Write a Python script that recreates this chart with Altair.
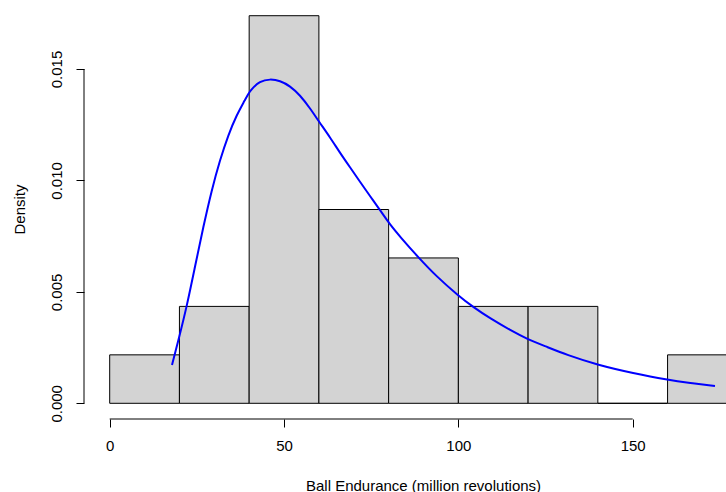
import altair as alt
import pandas as pd

# Histogram bins (million revolutions) and densities
bin_start = [0, 20, 40, 60, 80, 100, 120, 140, 160]
bin_end = [20, 40, 60, 80, 100, 120, 140, 160, 180]
density = [0.002174, 0.004348, 0.017391, 0.008696, 0.006522, 0.004348, 0.004348, 0.0, 0.002174]

# Fitted density curve
curve_x = [17.87, 19.96, 22.08, 24.46, 26.85, 29.25, 31.63, 34.01, 36.42, 38.81, 40.25, 43.1,
           45.99, 48.85, 51.72, 54.58, 57.45, 60.03, 63.18, 66.05, 68.92, 71.79, 74.66, 77.52,
           80.39, 83.26, 88.5, 93.8, 100.0, 104.3, 109.1, 114.8, 120.06, 124.8, 131.1, 140.0,
           150.2, 160.0, 166.4, 173.6]
curve_y = [0.00172, 0.00299, 0.00433, 0.00613, 0.00792, 0.00957, 0.01092, 0.01204, 0.01294,
           0.01361, 0.01405, 0.01446, 0.01455, 0.01448, 0.01424, 0.01383, 0.01324, 0.01264,
           0.01194, 0.01124, 0.01059, 0.00994, 0.00930, 0.00867, 0.00802, 0.00748, 0.00655,
           0.00568, 0.00483, 0.00431, 0.00381, 0.00329, 0.00286, 0.00257, 0.00217, 0.00172,
           0.00135, 0.00105, 0.00091, 0.00078]

x_ticks = [0, 50, 100, 150]
y_ticks = [0.0, 0.005, 0.010, 0.015]

# Plot extents (R-style extended ranges)
x_min, x_max = -7.37, 176.76
y_min, y_max = -0.000704, 0.018096

FONT = "Liberation Sans"
FS = 15

hist = pd.DataFrame({"start": bin_start, "end": bin_end, "density": density})
curve = pd.DataFrame({"x": curve_x, "y": curve_y})

xscale = alt.Scale(domain=[x_min, x_max], nice=False, zero=False)
yscale = alt.Scale(domain=[y_min, y_max], nice=False, zero=False)

x_axis = alt.Axis(
    values=x_ticks, domain=False, grid=False, tickSize=8, tickColor="black",
    labelColor="black", labelFont=FONT, labelFontSize=FS, labelPadding=11,
    title="Ball Endurance (million revolutions)", titleFont=FONT, titleFontSize=FS,
    titleFontWeight="normal", titleColor="black", titleX=339, titleY=66,
    titleAlign="center", titleBaseline="middle",
)
y_axis = alt.Axis(
    values=y_ticks, format=".3f", domain=False, grid=False, tickSize=8, tickColor="black",
    labelColor="black", labelFont=FONT, labelFontSize=FS, labelAngle=270,
    labelAlign="center", labelBaseline="bottom", labelPadding=12,
    title="Density", titleFont=FONT, titleFontSize=FS, titleFontWeight="normal",
    titleColor="black", titleAngle=270, titleX=-65, titleY=209, titleAlign="center",
    titleBaseline="middle",
)

bars = alt.Chart(hist).mark_rect(
    fill="#D3D3D3", stroke="black", strokeWidth=1, clip=True
).encode(
    x=alt.X("start:Q", scale=xscale, axis=x_axis),
    x2="end:Q",
    y=alt.Y("density:Q", scale=yscale, axis=y_axis),
    y2=alt.datum(0),
)

line = alt.Chart(curve).mark_line(
    color="#0000FF", strokeWidth=2, interpolate="basis", clip=True
).encode(
    x=alt.X("x:Q", scale=xscale),
    y=alt.Y("y:Q", scale=yscale),
)

xaxis_line = alt.Chart(pd.DataFrame({"a": [x_ticks[0]], "b": [x_ticks[-1]], "y": [y_min]})).mark_rule(
    color="black", strokeWidth=1
).encode(x=alt.X("a:Q", scale=xscale), x2="b:Q", y=alt.Y("y:Q", scale=yscale))

yaxis_line = alt.Chart(pd.DataFrame({"a": [y_ticks[0]], "b": [y_ticks[-1]], "x": [x_min]})).mark_rule(
    color="black", strokeWidth=1
).encode(y=alt.Y("a:Q", scale=yscale), y2="b:Q", x=alt.X("x:Q", scale=xscale))

chart = alt.layer(bars, line, xaxis_line, yaxis_line).properties(
    width=642, height=419,
    autosize=alt.AutoSizeParams(type="none"),
    padding={"left": 84, "top": 0, "right": 0, "bottom": 73},
    background="white",
).configure_view(stroke=None)

chart.save("out.html", embed_options={"renderer": "svg", "actions": False})
